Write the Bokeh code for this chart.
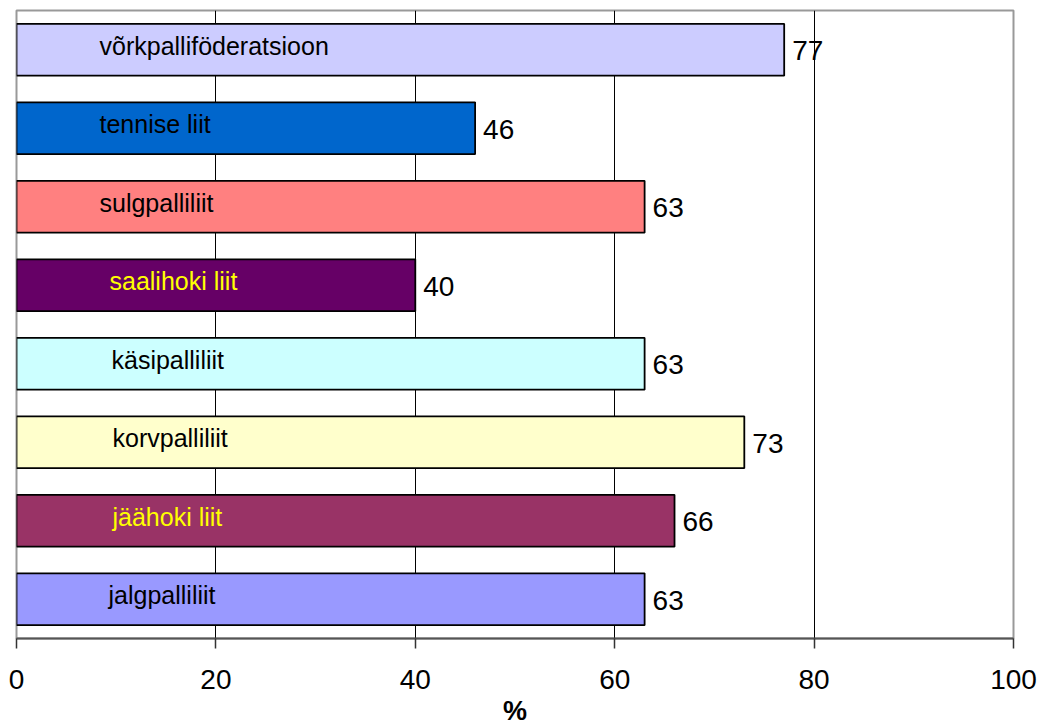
from bokeh.plotting import figure
from bokeh.models import ColumnDataSource, FactorRange, FixedTicker
from bokeh.core.properties import value
from bokeh.embed import file_html
from bokeh.resources import INLINE

categories = ["võrkpalliföderatsioon", "tennise liit", "sulgpalliliit", "saalihoki liit",
              "käsipalliliit", "korvpalliliit", "jäähoki liit", "jalgpalliliit"]
values = [77, 46, 63, 40, 63, 73, 66, 63]
bar_colors = ["#CCCCFF", "#0066CC", "#FF8080", "#660066",
              "#CCFFFF", "#FFFFCC", "#993366", "#9999FF"]
label_colors = ["black", "black", "black", "#FFFF00",
                "black", "black", "#FFFF00", "black"]
label_offsets = [83, 83, 83, 93, 95, 96, 96, 92]
x_ticks = [0, 20, 40, 60, 80, 100]

src = ColumnDataSource(dict(cat=categories, val=values, color=bar_colors,
                            lcolor=label_colors, loff=label_offsets,
                            zero=[0] * len(values),
                            vlabel=[str(v) for v in values]))

FONT = "Liberation Sans"

p = figure(y_range=FactorRange(*reversed(categories)), x_range=(0, 100),
           frame_width=997, frame_height=628,
           output_backend="svg", toolbar_location=None,
           min_border_left=16, min_border_right=25, min_border_top=10, min_border_bottom=0)

p.hbar(y="cat", right="val", left=0, height=0.66, source=src,
       fill_color="color", line_color="black", line_width=1.8)

p.text(x="zero", y="cat", text="cat", source=src, text_color="lcolor",
       x_offset="loff", y_offset=-4, text_baseline="middle", text_align="left",
       text_font=value(FONT), text_font_size="25px")

p.text(x="val", y="cat", text="vlabel", source=src, text_color="black",
       x_offset=8, y_offset=1, text_baseline="middle", text_align="left",
       text_font=value(FONT), text_font_size="28px")

p.yaxis.visible = False
p.ygrid.visible = False
p.xgrid.ticker = FixedTicker(ticks=[20, 40, 60, 80])
p.xgrid.grid_line_color = "black"
p.xgrid.grid_line_width = 1

p.xaxis.ticker = FixedTicker(ticks=x_ticks)
p.xaxis.axis_line_color = "#555555"
p.xaxis.axis_line_width = 2
p.xaxis.major_tick_line_color = "#333333"
p.xaxis.major_tick_line_width = 1.5
p.xaxis.major_tick_out = 10
p.xaxis.major_tick_in = 0
p.xaxis.minor_tick_line_color = None
p.xaxis.major_label_text_font = FONT
p.xaxis.major_label_text_font_size = "28px"
p.xaxis.major_label_text_color = "black"
p.xaxis.major_label_standoff = 21
p.xaxis.axis_label = "%"
p.xaxis.axis_label_text_font = FONT
p.xaxis.axis_label_text_font_size = "27px"
p.xaxis.axis_label_text_font_style = "bold"
p.xaxis.axis_label_text_color = "black"
p.xaxis.axis_label_standoff = 4

p.outline_line_color = "#999999"
p.outline_line_width = 2
p.background_fill_color = "white"
p.border_fill_color = "white"

open("out.html", "w").write(file_html(p, INLINE))
